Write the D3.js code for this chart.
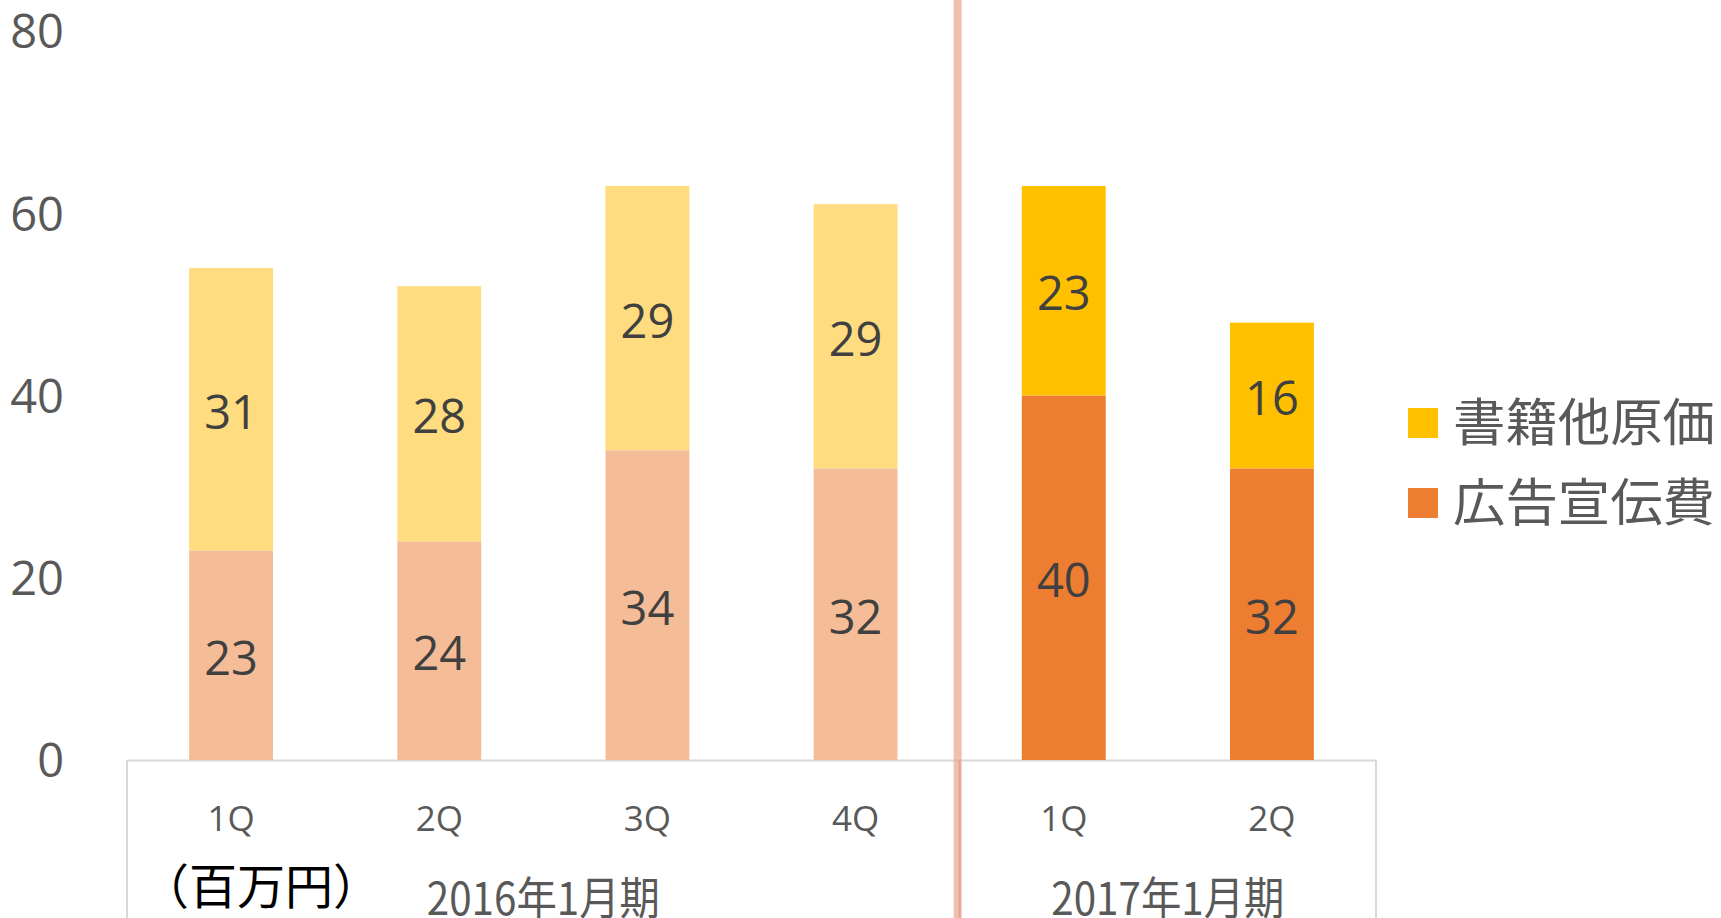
<!DOCTYPE html>
<html>
<head>
<meta charset="utf-8">
<script src="https://cdn.jsdelivr.net/npm/d3@7"></script>
<style>
  body { margin: 0; background: #fff; }
  svg { display: block; }
</style>
</head>
<body>
<div id="chart"></div>
<script>
// chart data
var quarters = ["1Q", "2Q", "3Q", "4Q", "1Q", "2Q"];
var periods = ["2016年1月期", "2017年1月期"];
var periodSizes = [4, 2];
var seriesNames = ["広告宣伝費", "書籍他原価"];
var adCost = [23, 24, 34, 32, 40, 32];
var bookCost = [31, 28, 29, 29, 23, 16];
var yTicks = [0, 20, 40, 60, 80];

function drawChart(){
  var width = 1721,
      height = 918;

  var svg = d3.select("#chart")
              .append("svg")
              .attr("width", width)
              .attr("height", height);

  var x = d3.scaleBand()
            .domain(d3.range(quarters.length))
            .range([127, 1376])
            .padding(0);
  var barW = x.bandwidth() * 0.403;

  var y = d3.scaleLinear()
            .domain([0, 80])
            .range([760, 31]);

  // old year is drawn faded, new year in full colour
  var lightCol = {ad: "#F5BD97", book: "#FEDC7F"};
  var fullCol = {ad: "#ED7D31", book: "#FFC000"};
  function colour(i, key){ return i < periodSizes[0] ? lightCol[key] : fullCol[key]; }

  var rows = quarters.map(function(q, i){
    return {i: i, q: q, ad: adCost[i], book: bookCost[i]};
  });

  // category box under the plot
  var boxG = svg.append("g");
  boxG.append("line")
      .attr("x1", x.range()[0]).attr("x2", x.range()[1])
      .attr("y1", y(0) + 0.5).attr("y2", y(0) + 0.5)
      .attr("stroke", "#D9D9D9").attr("stroke-width", 2);
  [x.range()[0], x.range()[1], x(periodSizes[0])].forEach(function(px){
    boxG.append("line")
        .attr("x1", px).attr("x2", px)
        .attr("y1", y(0)).attr("y2", height)
        .attr("stroke", px === x(periodSizes[0]) ? "#C8A49A" : "#D9D9D9")
        .attr("stroke-width", 2);
  });

  // bottom segments (広告宣伝費)
  svg.append("g")
     .selectAll("rect")
     .data(rows)
     .enter()
     .append("rect")
     .attr("x", function(d){ return x(d.i) + (x.bandwidth() - barW) / 2; })
     .attr("width", barW)
     .attr("y", function(d){ return y(d.ad); })
     .attr("height", function(d){ return y(0) - y(d.ad); })
     .attr("fill", function(d){ return colour(d.i, "ad"); });

  // top segments (書籍他原価)
  svg.append("g")
     .selectAll("rect")
     .data(rows)
     .enter()
     .append("rect")
     .attr("x", function(d){ return x(d.i) + (x.bandwidth() - barW) / 2; })
     .attr("width", barW)
     .attr("y", function(d){ return y(d.ad + d.book); })
     .attr("height", function(d){ return y(d.ad) - y(d.ad + d.book); })
     .attr("fill", function(d){ return colour(d.i, "book"); });

  // value labels
  var lab = svg.append("g")
               .attr("font-family", "'Open Sans', 'Noto Sans', sans-serif")
               .attr("font-size", "47px")
               .attr("fill", "#404040")
               .attr("text-anchor", "middle");
  rows.forEach(function(d){
    lab.append("text")
       .attr("x", x(d.i) + x.bandwidth() / 2)
       .attr("y", (y(0) + y(d.ad)) / 2)
       .attr("dy", "0.42em")
       .text(d.ad);
    lab.append("text")
       .attr("x", x(d.i) + x.bandwidth() / 2)
       .attr("y", (y(d.ad) + y(d.ad + d.book)) / 2)
       .attr("dy", "0.42em")
       .text(d.book);
  });

  // y axis, labels only
  var yAxis = svg.append("g")
                 .attr("transform", "translate(64,0)")
                 .call(d3.axisLeft(y).tickValues(yTicks).tickSize(0).tickPadding(0));
  yAxis.select(".domain").remove();
  yAxis.selectAll("text")
       .attr("font-family", "'Open Sans', 'Noto Sans', sans-serif")
       .attr("font-size", "47px")
       .attr("dy", "0.36em")
       .attr("fill", "#595959");

  // quarter labels
  svg.append("g")
     .selectAll("text")
     .data(rows)
     .enter()
     .append("text")
     .attr("x", function(d){ return x(d.i) + x.bandwidth() / 2; })
     .attr("y", 818)
     .attr("dy", "0.36em")
     .attr("text-anchor", "middle")
     .attr("font-family", "'Open Sans', 'Noto Sans', sans-serif")
     .attr("font-size", "35px")
     .attr("fill", "#595959")
     .text(function(d){ return d.q; });

  // period labels
  var start = 0;
  periods.forEach(function(p, k){
    var x0 = x(start),
        x1 = x(start + periodSizes[k] - 1) + x.bandwidth();
    svg.append("text")
       .attr("x", (x0 + x1) / 2)
       .attr("y", 915)
       .attr("text-anchor", "middle")
       .attr("font-family", "'Noto Sans CJK JP', sans-serif")
       .attr("font-size", "45px")
       .attr("textLength", 233)
       .attr("lengthAdjust", "spacingAndGlyphs")
       .attr("fill", "#595959")
       .text(p);
    start += periodSizes[k];
  });

  // unit label
  svg.append("text")
     .attr("x", 141)
     .attr("y", 904)
     .attr("font-family", "'Noto Sans CJK JP', sans-serif")
     .attr("font-size", "48px")
     .attr("fill", "#000")
     .text("（百万円）");

  // divider between fiscal years
  svg.append("rect")
     .attr("x", x(periodSizes[0]) - 6)
     .attr("y", 0)
     .attr("width", 8)
     .attr("height", height)
     .attr("fill", "#E8A48E")
     .attr("opacity", 0.7);

  // legend (top series first)
  var legend = svg.append("g")
                  .attr("font-family", "'Noto Sans CJK JP', sans-serif")
                  .attr("font-size", "51px")
                  .attr("fill", "#595959");
  var legendItems = [
    {name: seriesNames[1], col: fullCol.book},
    {name: seriesNames[0], col: fullCol.ad}
  ];
  legendItems.forEach(function(d, k){
    var cy = 423 + k * 80;
    legend.append("rect")
          .attr("x", 1408).attr("y", cy - 15)
          .attr("width", 30).attr("height", 30)
          .attr("fill", d.col);
    legend.append("text")
          .attr("x", 1453).attr("y", cy)
          .attr("dy", "0.36em")
          .attr("textLength", 262)
          .attr("lengthAdjust", "spacingAndGlyphs")
          .text(d.name);
  });
}

drawChart();
</script>
</body>
</html>
